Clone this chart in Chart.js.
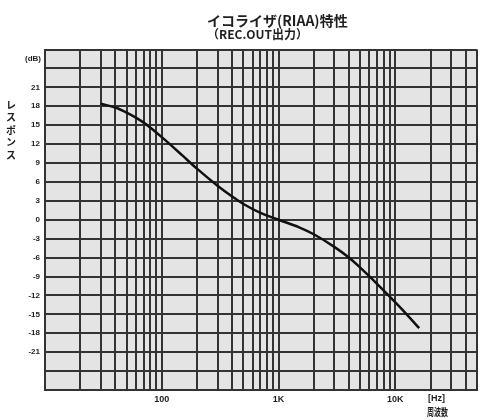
<!DOCTYPE html>
<html>
<head>
<meta charset="utf-8">
<script src="https://cdn.jsdelivr.net/npm/chart.js@4/dist/chart.umd.min.js"></script>
<style>
html,body{margin:0;padding:0;background:#fff;}
canvas{display:block;}
</style>
</head>
<body>
<canvas id="c" width="481" height="420"></canvas>
<script>
// ---- data ----
const freqHz = [30, 40, 50, 60, 70, 80, 100, 150, 200, 300, 400, 500, 700, 1000, 1500, 2000, 3000, 4000, 5000, 7000, 10000, 12500, 16000];
const responseDb = [18.4, 17.8, 17.0, 16.2, 15.4, 14.6, 13.1, 10.2, 8.1, 5.4, 3.7, 2.5, 1.1, 0.0, -1.2, -2.3, -4.3, -6.0, -7.6, -10.2, -13.1, -15.0, -17.2];
const xGridValues = [10,20,30,40,50,60,70,80,90,100,200,300,400,500,600,700,800,900,1000,2000,3000,4000,5000,6000,7000,8000,9000,10000,20000,30000,40000,50000];
const xTickLabels = {100: '100', 1000: '1K', 10000: '10K'};
const yLabelValues = [21, 18, 15, 12, 9, 6, 3, 0, -3, -6, -9, -12, -15, -18, -21];
const titleLines = ['イコライザ(RIAA)特性', '（REC.OUT出力）'];
const yAxisTitle = 'レスポンス';
const yUnit = '(dB)';
const xUnit = '[Hz]';
const xAxisTitle = '周波数';

const GRID = '#333333';
const TXT = '#1e1e1e';
const FAM = '"Liberation Sans", Arial, sans-serif';
const JFAM = '"Noto Sans CJK JP", sans-serif';

const decor = {
  id: 'decor',
  beforeDraw(chart) {
    const {ctx, chartArea: a} = chart;
    ctx.save();
    ctx.fillStyle = '#ffffff';
    ctx.fillRect(0, 0, chart.width, chart.height);
    ctx.fillStyle = '#e4e4e4';
    ctx.fillRect(a.left, a.top, a.right - a.left, a.bottom - a.top);
    ctx.restore();
  },
  afterDraw(chart) {
    const {ctx, scales} = chart;
    const y = scales.y;
    ctx.save();
    ctx.fillStyle = TXT;
    ctx.textBaseline = 'middle';
    // title
    ctx.font = 'bold 14px ' + JFAM;
    ctx.textAlign = 'left';
    ctx.fillText(titleLines[0], 207, 21, 143);
    ctx.font = 'bold 12px ' + JFAM;
    ctx.fillText(titleLines[1], 207, 34, 104);
    // y unit
    ctx.font = 'bold 8px ' + FAM;
    ctx.textAlign = 'right';
    ctx.fillText(yUnit, 41, y.getPixelForValue(25.5));
    // vertical y-axis title
    ctx.font = 'bold 10px ' + JFAM;
    ctx.textAlign = 'center';
    Array.from(yAxisTitle).forEach((ch, i) => ctx.fillText(ch, 11, 105 + i * 12.5));
    // x unit & title
    ctx.font = 'bold 9px ' + FAM;
    ctx.textAlign = 'left';
    ctx.fillText(xUnit, 428, 399);
    ctx.font = 'bold 10px ' + JFAM;
    ctx.fillText(xAxisTitle, 427, 412, 21);
    ctx.restore();
  }
};

new Chart(document.getElementById('c'), {
  type: 'line',
  data: {
    datasets: [{
      data: freqHz.map((f, i) => ({x: f, y: responseDb[i]})),
      borderColor: '#111111',
      borderWidth: 2.5,
      pointRadius: 0,
      fill: false,
      cubicInterpolationMode: 'monotone'
    }]
  },
  options: {
    responsive: false,
    devicePixelRatio: 1,
    animation: false,
    layout: {padding: {left: 0, top: 49.5, right: 2, bottom: 0}},
    plugins: {legend: {display: false}, tooltip: {enabled: false}, title: {display: false}},
    scales: {
      x: {
        type: 'logarithmic',
        min: 10,
        max: 50000,
        afterBuildTicks(scale) { scale.ticks = xGridValues.map(v => ({value: v})); },
        afterFit(scale) { scale.height = 30; },
        ticks: {
          autoSkip: false,
          maxRotation: 0,
          padding: 4,
          color: TXT,
          font: {family: FAM, size: 9, weight: 'bold'},
          callback: v => xTickLabels[v] || ''
        },
        grid: {color: GRID, lineWidth: 2, drawTicks: false},
        border: {display: true, color: GRID, width: 2}
      },
      y: {
        type: 'linear',
        min: -27,
        max: 27,
        afterFit(scale) { scale.width = 45; },
        ticks: {
          stepSize: 3,
          padding: 5,
          color: TXT,
          font: {family: FAM, size: 8, weight: 'bold'},
          callback: v => (yLabelValues.includes(v) ? String(v) : '')
        },
        grid: {color: GRID, lineWidth: 2, drawTicks: false},
        border: {display: true, color: GRID, width: 2}
      }
    }
  },
  plugins: [decor]
});
</script>
</body>
</html>
